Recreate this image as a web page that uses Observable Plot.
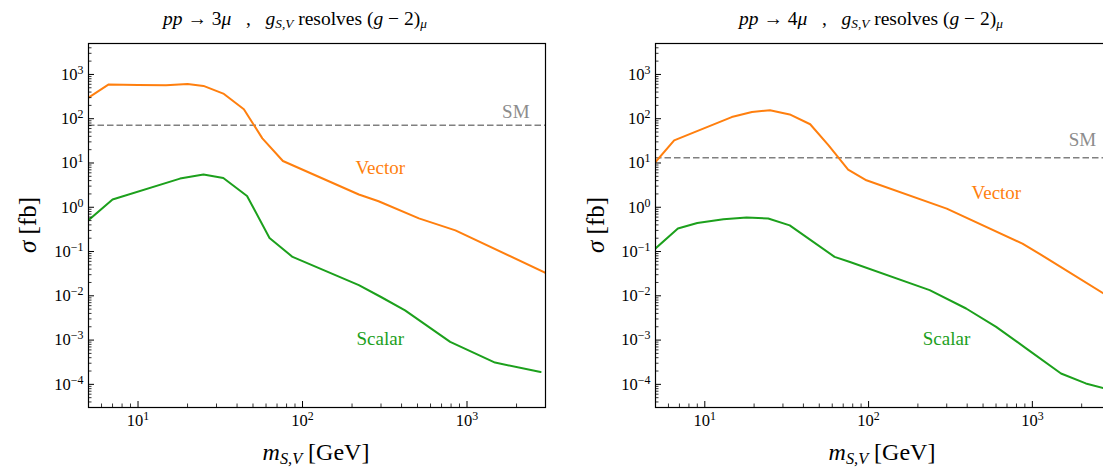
<!DOCTYPE html>
<html><head><meta charset="utf-8">
<script src="https://cdn.jsdelivr.net/npm/d3@7"></script>
<script src="https://cdn.jsdelivr.net/npm/@observablehq/plot@0.6"></script>
<style>
html,body{margin:0;padding:0;background:#fff;overflow:hidden;width:1103px;height:470px;}
#root{position:relative;width:1103px;height:470px;font-family:"Liberation Serif","DejaVu Serif",serif;color:#000;overflow:hidden;}
.panel{position:absolute;top:35px;}
.title{position:absolute;top:8px;font-size:19.5px;line-height:22px;white-space:pre;transform:translateX(-50%);}
.xlab{position:absolute;top:439px;font-size:24px;line-height:26px;white-space:pre;transform:translateX(-50%);}
.ylab{position:absolute;font-size:25px;line-height:28px;white-space:pre;transform:translate(-50%,-50%) rotate(-90deg);}
sub{font-size:0.68em;vertical-align:-0.22em;line-height:0;}
</style>
</head><body>
<div id="root"></div>
<script>
// ---------- data ----------
const massVector3mu  = [5, 6.6, 10, 14.8, 20, 25, 33, 44, 57, 76, 220, 290, 510, 850, 3000];
const sigmaVector3mu = [300, 590, 575, 570, 610, 550, 370, 163, 36, 11.1, 1.94, 1.37, 0.56, 0.30, 0.033];
const massScalar3mu  = [5, 7, 18, 25, 33, 46, 63, 87, 220, 300, 420, 790, 1480, 2800];
const sigmaScalar3mu = [0.51, 1.5, 4.44, 5.47, 4.59, 1.8, 0.203, 0.0755, 0.0174, 0.0094, 0.0047, 0.00091, 0.00031, 0.00019];
const massVector4mu  = [5, 6.5, 14.6, 19.4, 25, 33, 44, 57, 75, 97, 300, 870, 1100, 3000];
const sigmaVector4mu = [10.5, 32.5, 109, 142, 155, 125, 75, 25, 7.1, 4.07, 0.93, 0.151, 0.09, 0.009];
const massScalar4mu  = [5, 6.85, 9, 13, 18, 24.4, 33, 62, 77, 236, 394, 601, 916, 1496, 2120, 3000];
const sigmaScalar4mu = [0.117, 0.33, 0.44, 0.536, 0.585, 0.556, 0.39, 0.0758, 0.058, 0.0134, 0.00517, 0.00199, 0.00065, 0.000176, 0.000105, 0.000075];
const smSigma3mu = 71;
const smSigma4mu = 13.2;

const xDomain = [5, 3000];
const yDomain = [3e-5, 5e3];
const xMajorTicks = [10, 100, 1000];
const xMinorTicks = [6, 7, 8, 9, 20, 30, 40, 50, 60, 70, 80, 90, 200, 300, 400, 500, 600, 700, 800, 900, 2000, 3000];
const yMajorTicks = [1e-4, 1e-3, 1e-2, 1e-1, 1, 10, 100, 1000];
const yMinorTicks = [];
for (let e = -5; e <= 3; e++) for (let m = 2; m <= 9; m++) { const v = m * Math.pow(10, e); if (v > yDomain[0] && v < yDomain[1]) yMinorTicks.push(v); }

// label positions (data coordinates)
const labels3mu = [
  {x: 297, y: 7.6, text: "Vector", color: "#ff7f0e"},
  {x: 297, y: 0.00105, text: "Scalar", color: "#1ca01c"},
  {x: 1980, y: 139, text: "SM", color: "#8c8c8c"}
];
const labels4mu = [
  {x: 603, y: 2.07, text: "Vector", color: "#ff7f0e"},
  {x: 299, y: 0.00105, text: "Scalar", color: "#1ca01c"},
  {x: 2020, y: 32.5, text: "SM", color: "#8c8c8c"}
];

const zip = (xs, ys) => xs.map((x, i) => ({x, y: ys[i]}));

function panel({vec, sca, sm, labels, marginLeft, marginRight}) {
  const W = 560, H = 435, mT = 8, mB = 63;
  const plotW = W - marginLeft - marginRight, plotH = H - mT - mB;
  const fmt = d => "10^" + Math.round(Math.log10(d));
  const svg = Plot.plot({
    width: W, height: H, marginLeft, marginRight, marginTop: mT, marginBottom: mB,
    x: {type: "log", domain: xDomain},
    y: {type: "log", domain: yDomain},
    style: {fontFamily: '"Liberation Serif","DejaVu Serif",serif', fontSize: "16.5px", color: "#000", background: "transparent", overflow: "visible"},
    marks: [
      Plot.ruleY([sm], {stroke: "#808080", strokeWidth: 1.5, strokeDasharray: "6.5,3"}),
      Plot.line(vec, {x: "x", y: "y", stroke: "#ff7f0e", strokeWidth: 2, clip: true}),
      Plot.line(sca, {x: "x", y: "y", stroke: "#1ca01c", strokeWidth: 2, clip: true}),
      Plot.text(labels, {x: "x", y: "y", text: "text", fill: "color", fontSize: 19}),
      Plot.ruleX(xMajorTicks, {stroke: "#000", strokeWidth: 1, insetTop: plotH - 6}),
      Plot.ruleX(xMinorTicks, {stroke: "#000", strokeWidth: 0.8, insetTop: plotH - 3.5}),
      Plot.ruleY(yMajorTicks, {stroke: "#000", strokeWidth: 1, insetRight: plotW - 6}),
      Plot.ruleY(yMinorTicks, {stroke: "#000", strokeWidth: 0.8, insetRight: plotW - 3.5}),
      Plot.axisX(xMajorTicks, {tickSize: 0, tickPadding: 7, tickFormat: fmt, label: null}),
      Plot.axisY(yMajorTicks, {tickSize: 0, tickPadding: 5, tickFormat: fmt, label: null}),
      Plot.frame({stroke: "#000", strokeWidth: 1.2})
    ]
  });
  // turn "10^k" into 10 with a superscript
  svg.querySelectorAll('g[aria-label$="tick label"] text').forEach(t => {
    const s = t.textContent;
    const m = s.match(/^10\^(-?\d+)$/);
    if (!m) return;
    t.textContent = "";
    const base = document.createElementNS("http://www.w3.org/2000/svg", "tspan");
    base.textContent = "10";
    const sup = document.createElementNS("http://www.w3.org/2000/svg", "tspan");
    sup.textContent = m[1].replace("-", "\u2212");
    sup.setAttribute("dy", "-0.5em");
    sup.setAttribute("font-size", "0.72em");
    t.appendChild(base); t.appendChild(sup);
  });
  return svg;
}

const root = document.getElementById("root");
function add(el, left) { el.classList.add("panel"); el.style.left = left + "px"; root.appendChild(el); }

add(panel({vec: zip(massVector3mu, sigmaVector3mu), sca: zip(massScalar3mu, sigmaScalar3mu), sm: smSigma3mu, labels: labels3mu, marginLeft: 88, marginRight: 15}), 0);
add(panel({vec: zip(massVector4mu, sigmaVector4mu), sca: zip(massScalar4mu, sigmaScalar4mu), sm: smSigma4mu, labels: labels4mu, marginLeft: 95, marginRight: 10}), 560);

function html(cls, style, content) {
  const d = document.createElement("div");
  d.className = cls; Object.assign(d.style, style); d.innerHTML = content; root.appendChild(d);
}
const titleHTML = n => `<i>pp</i> → ${n}<i>μ</i>   ,   <i>g</i><sub><i>S,V</i></sub> resolves (<i>g</i> − 2)<sub><i>μ</i></sub>`;
html("title", {left: "295px"}, titleHTML(3));
html("title", {left: "871px"}, titleHTML(4));
const xlabHTML = `<i>m</i><sub><i>S,V</i></sub> [GeV]`;
html("xlab", {left: "316px"}, xlabHTML);
html("xlab", {left: "882px"}, xlabHTML);
const ylabHTML = `<i>σ</i> [fb]`;
html("ylab", {left: "28px", top: "225px"}, ylabHTML);
html("ylab", {left: "596px", top: "225px"}, ylabHTML);
</script>
</body></html>
